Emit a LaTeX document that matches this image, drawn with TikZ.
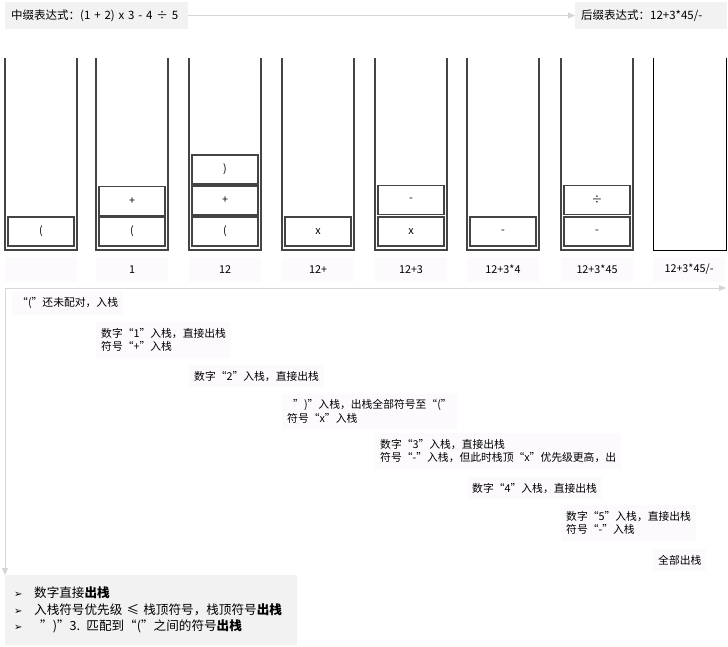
\documentclass[tikz,border=0pt]{standalone}
\usepackage{fontspec}
\setmainfont{Noto Sans CJK SC}
\newfontfamily\symfont{DejaVu Sans}
\usepackage{tikz}
\usetikzlibrary{arrows.meta}
\tikzset{>=latex}
\definecolor{boxgray}{HTML}{F2F2F2}
\definecolor{steppink}{HTML}{FDFAFD}
\definecolor{flowgray}{HTML}{D6D6D6}
\definecolor{wallgray}{HTML}{444444}

\tikzset{
  wall/.style = {line width = 1.4pt, draw = wallgray},
  cell/.style = {draw = wallgray, line width = 1.2pt, minimum width = 66pt, minimum height = 29pt, inner sep = 0pt},
  result/.style = {fill = steppink, minimum width = 72pt, minimum height = 25pt, inner sep = 0pt},
  stepnote/.style = {fill = steppink, anchor = west, align = left, inner xsep = 5pt, inner ysep = 6pt},
  flow/.style = {draw = flowgray, line width = 1pt, -{Triangle[length = 7pt, width = 6pt, fill = flowgray]}},
  titlebox/.style = {fill = boxgray, anchor = west, minimum height = 27pt, inner xsep = 6pt}
}

\begin{document}
\begin{tikzpicture}[x = 1pt, y = -1pt, font = \fontsize{10.8}{13.5}\selectfont]
\useasboundingbox (0,0) rectangle (728,646);

% expressions
\node[titlebox, text width = 171pt, font = \fontsize{11.5}{13.5}\selectfont] (infix) at (5,15.5) {中缀表达式：(1 + 2) x 3 - 4 ÷ 5};
\node[titlebox, text width = 140pt, font = \fontsize{11.5}{13.5}\selectfont] (postfix) at (575,15.5) {后缀表达式：12+3*45/-};
\draw[flow] (infix) -- (postfix);

% stacks
\begin{scope}[xshift = 5pt]
\draw[wall] (0,58) -- (0,250) -- (72,250) -- (72,58);
\node[cell] (s1a) at (36,231.5) {(};
\node[result] (r1) at (36,269.5) {};
\end{scope}
\begin{scope}[xshift = 96pt]
\draw[wall] (0,58) -- (0,250) -- (72,250) -- (72,58);
\node[cell] (s2a) at (36,231.5) {(};
\node[cell] (s2b) at (36,201) {+};
\node[result] (r2) at (36,269.5) {1};
\end{scope}
\begin{scope}[xshift = 189pt]
\draw[wall] (0,58) -- (0,250) -- (72,250) -- (72,58);
\node[cell] (s3a) at (36,231.5) {(};
\node[cell] (s3b) at (36,200.5) {+};
\node[cell] (s3c) at (36,169.5) {)};
\node[result] (r3) at (36,269.5) {12};
\end{scope}
\begin{scope}[xshift = 282pt]
\draw[wall] (0,58) -- (0,250) -- (72,250) -- (72,58);
\node[cell] (s4a) at (36,231.5) {x};
\node[result] (r4) at (36,269.5) {12+};
\end{scope}
\begin{scope}[xshift = 375pt]
\draw[wall] (0,58) -- (0,250) -- (72,250) -- (72,58);
\node[cell] (s5a) at (36,231.5) {x};
\node[cell] (s5b) at (36,200) {-};
\node[result] (r5) at (36,269.5) {12+3};
\end{scope}
\begin{scope}[xshift = 467pt]
\draw[wall] (0,58) -- (0,250) -- (72,250) -- (72,58);
\node[cell] (s6a) at (36,231.5) {-};
\node[result] (r6) at (36,269.5) {12+3*4};
\end{scope}
\begin{scope}[xshift = 561pt]
\draw[wall] (0,58) -- (0,250) -- (72,250) -- (72,58);
\node[cell] (s7a) at (36,231.5) {-};
\node[cell] (s7b) at (36,200) {÷};
\node[result] (r7) at (36,269.5) {12+3*45};
\end{scope}
\begin{scope}[xshift = 653pt]
\draw[line width = 1pt] (0,58) -- (0,250) -- (73,250) -- (73,58);
\node[result] (r8) at (36,269.5) {12+3*45/-};
\end{scope}

% steps
\node[stepnote] (n1) at (12,303) {“(”还未配对，入栈};
\node[stepnote] (n2) at (96,340) {数字“1”入栈，直接出栈\\符号“+”入栈};
\node[stepnote] (n3) at (189,376) {数字“2”入栈，直接出栈};
\node[stepnote] (n4) at (282,411.5) {\hspace{6pt}”)”入栈，出栈全部符号至“(”\\符号“x”入栈};
\node[stepnote] (n5) at (375,451) {数字“3”入栈，直接出栈\\符号“-”入栈，但此时栈顶“x”优先级更高，出};
\node[stepnote] (n6) at (467,488) {数字“4”入栈，直接出栈};
\node[stepnote] (n7) at (561,523) {数字“5”入栈，直接出栈\\符号“-”入栈};
\node[stepnote] (n8) at (653,560) {全部出栈};

% rules
\node[fill = boxgray, anchor = north west, text width = 274pt, minimum height = 70pt,
  align = left, inner xsep = 9pt, font = \fontsize{12.6}{16.5}\selectfont] (rules) at (5,575)
  {\makebox[20pt][l]{\symfont\fontsize{10}{10}\selectfont ➢}数字直接\textbf{出栈}\\
   \makebox[20pt][l]{\symfont\fontsize{10}{10}\selectfont ➢}入栈符号优先级 ≤ 栈顶符号，栈顶符号\textbf{出栈}\\
   \makebox[20pt][l]{\symfont\fontsize{10}{10}\selectfont ➢}\hspace{6pt}”)”3. 匹配到“(”之间的符号\textbf{出栈}};

% flow
\coordinate (corner) at (5,288);
\coordinate (flowend) at (726,288);
\draw[flow] (corner) -- (flowend);
\draw[flow] (corner) -- (corner |- rules.north);
\end{tikzpicture}
\end{document}
